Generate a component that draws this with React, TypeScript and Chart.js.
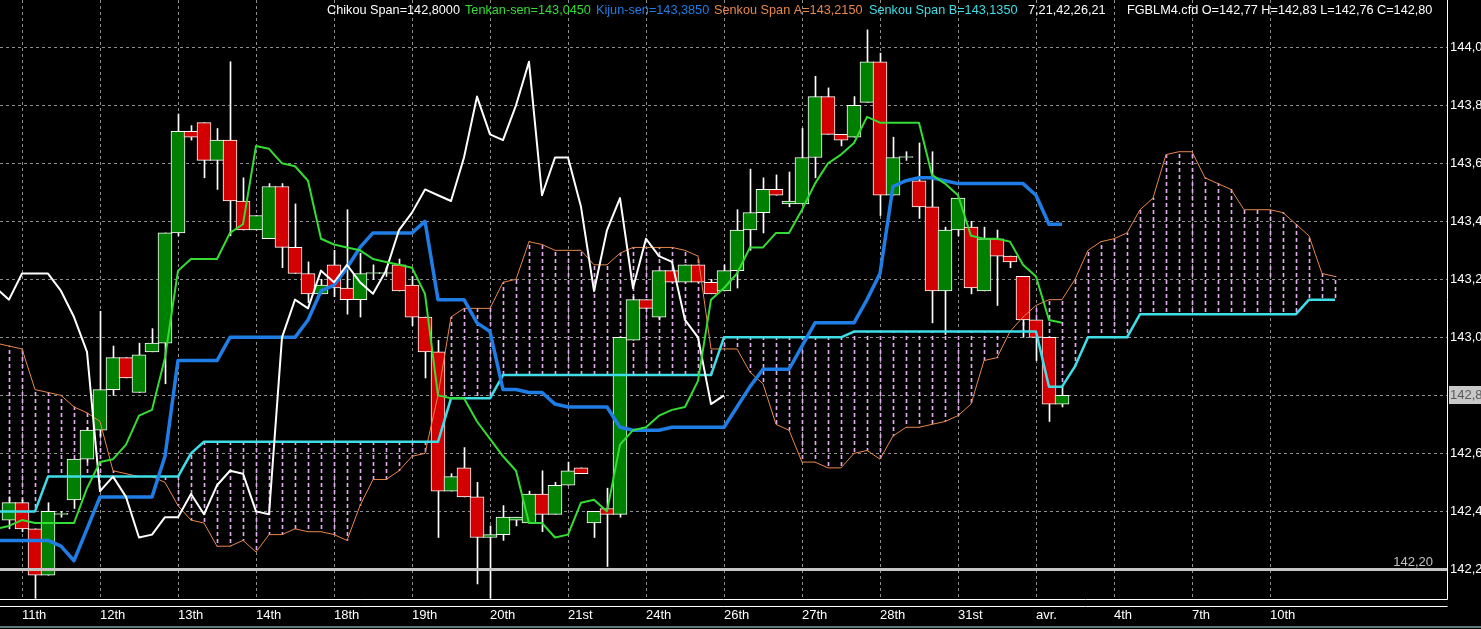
import React, { useEffect, useRef } from 'react';
import { Chart, registerables } from 'chart.js';

Chart.register(...registerables);

// ---------- DATA ----------
// Candles, bar index 0..81
const openP = [
  142.37, 142.43, 142.34, 142.18, 142.39, 142.44, 142.58, 142.68, 142.82, 142.93,
  142.81, 142.95, 142.98, 143.36, 143.71, 143.74, 143.61, 143.68, 143.47, 143.37,
  143.34, 143.52, 143.31, 143.22, 143.15, 143.25, 143.17, 143.13, 143.22, 143.22,
  143.25, 143.18, 143.07, 142.95, 142.47, 142.55, 142.45, 142.31, 142.32, 142.37,
  142.36, 142.46, 142.39, 142.49, 142.55, 142.36, 142.41, 142.39, 142.99, 143.13,
  143.07, 143.23, 143.19, 143.25, 143.19, 143.16, 143.23, 143.37, 143.43, 143.51,
  143.46, 143.46, 143.62, 143.83, 143.70, 143.69, 143.81, 143.95, 143.49, 143.62,
  143.54, 143.45, 143.16, 143.37, 143.38, 143.16, 143.34, 143.28, 143.21, 143.06,
  143.00, 142.77,
];
const highP = [
  142.45, 142.44, 142.34, 142.43, 142.40, 142.58, 142.69, 143.09, 142.97, 142.93,
  142.98, 143.03, 143.36, 143.77, 143.73, 143.74, 143.72, 143.95, 143.55, 143.42,
  143.53, 143.53, 143.46, 143.26, 143.20, 143.30, 143.44, 143.29, 143.25, 143.24,
  143.27, 143.21, 143.07, 142.99, 142.53, 142.62, 142.50, 142.35, 142.42, 142.38,
  142.47, 142.54, 142.50, 142.57, 142.55, 142.40, 142.48, 143.00, 143.14, 143.13,
  143.23, 143.23, 143.25, 143.25, 143.20, 143.25, 143.44, 143.58, 143.55, 143.56,
  143.57, 143.72, 143.90, 143.86, 143.70, 143.83, 144.06, 143.98, 143.69, 143.64,
  143.67, 143.64, 143.38, 143.48, 143.40, 143.38, 143.37, 143.28, 143.21, 143.06,
  143.00, 142.83,
];
const lowP = [
  142.34, 142.33, 142.10, 142.18, 142.38, 142.41, 142.57, 142.66, 142.80, 142.86,
  142.81, 142.95, 142.84, 143.35, 143.68, 143.55, 143.51, 143.35, 143.37, 143.37,
  143.34, 143.24, 143.22, 143.12, 143.15, 143.14, 143.08, 143.07, 143.20, 143.21,
  143.16, 143.04, 142.86, 142.31, 142.47, 142.45, 142.15, 142.10, 142.30, 142.35,
  142.36, 142.33, 142.39, 142.49, 142.53, 142.31, 142.21, 142.38, 142.99, 143.10,
  143.06, 143.19, 143.19, 143.19, 143.15, 143.16, 143.17, 143.30, 143.36, 143.49,
  143.45, 143.46, 143.55, 143.70, 143.66, 143.69, 143.81, 143.42, 143.49, 143.61,
  143.41, 143.05, 143.01, 143.35, 143.15, 143.16, 143.11, 143.24, 143.00, 142.92,
  142.71, 142.76,
];
const closeP = [
  142.43, 142.34, 142.18, 142.40, 142.39, 142.58, 142.68, 142.82, 142.93, 142.86,
  142.94, 142.98, 143.36, 143.71, 143.69, 143.61, 143.68, 143.47, 143.37, 143.42,
  143.52, 143.31, 143.22, 143.15, 143.18, 143.17, 143.13, 143.22, 143.22, 143.22,
  143.16, 143.07, 142.95, 142.47, 142.52, 142.45, 142.31, 142.32, 142.38, 142.38,
  142.46, 142.39, 142.49, 142.54, 142.53, 142.40, 142.39, 143.00, 143.13, 143.10,
  143.23, 143.19, 143.25, 143.19, 143.15, 143.23, 143.37, 143.43, 143.51, 143.49,
  143.47, 143.62, 143.83, 143.70, 143.68, 143.80, 143.95, 143.49, 143.62, 143.62,
  143.45, 143.16, 143.37, 143.48, 143.17, 143.34, 143.28, 143.26, 143.06, 143.00,
  142.77, 142.80,
];

// Indicator lines start one bar before the first candle (bar index -1)
const LINE_START = -1;
const tenkan = [
  142.34,
  142.35, 142.37, 142.36, 142.36, 142.36, 142.36, 142.48, 142.57, 142.58, 142.63,
  142.73, 142.75, 142.93, 143.23, 143.27, 143.27, 143.27, 143.36, 143.39, 143.66,
  143.65, 143.60, 143.59, 143.54, 143.34, 143.32, 143.31, 143.30, 143.27, 143.26,
  143.25, 143.24, 143.15, 142.80, 142.79, 142.79, 142.71, 142.65, 142.59, 142.54,
  142.36, 142.36, 142.31, 142.32, 142.43, 142.44, 142.40, 142.63, 142.68, 142.69,
  142.73, 142.75, 142.76, 142.85, 143.13, 143.17, 143.22, 143.31, 143.31, 143.36,
  143.36, 143.44, 143.53, 143.60, 143.63, 143.67, 143.76, 143.74, 143.74, 143.74,
  143.74, 143.56, 143.53, 143.49, 143.35, 143.34, 143.34, 143.33, 143.25, 143.21,
  143.06, 143.05,
];
const kijun = [
  142.30,
  142.30, 142.30, 142.30, 142.30, 142.28, 142.23, 142.34, 142.45, 142.45, 142.45,
  142.45, 142.45, 142.59, 142.92, 142.92, 142.92, 142.92, 143.00, 143.00, 143.00,
  143.00, 143.00, 143.00, 143.06, 143.16, 143.18, 143.24, 143.31, 143.36, 143.36,
  143.36, 143.36, 143.40, 143.13, 143.13, 143.13, 143.05, 143.02, 142.82, 142.82,
  142.81, 142.81, 142.77, 142.76, 142.76, 142.76, 142.76, 142.69, 142.68, 142.68,
  142.68, 142.69, 142.69, 142.69, 142.69, 142.69, 142.76, 142.83, 142.89, 142.89,
  142.89, 142.97, 143.05, 143.05, 143.05, 143.05, 143.13, 143.22, 143.52, 143.54,
  143.55, 143.55, 143.54, 143.53, 143.53, 143.53, 143.53, 143.53, 143.53, 143.49,
  143.39, 143.39,
];
const chikou = [
  143.17,
  143.13, 143.22, 143.22, 143.22, 143.16, 143.07, 142.95, 142.47, 142.52, 142.45,
  142.31, 142.32, 142.38, 142.38, 142.46, 142.39, 142.49, 142.54, 142.53, 142.40,
  142.39, 143.00, 143.13, 143.10, 143.23, 143.19, 143.25, 143.19, 143.15, 143.23,
  143.37, 143.43, 143.51, 143.49, 143.47, 143.62, 143.83, 143.70, 143.68, 143.80,
  143.95, 143.49, 143.62, 143.62, 143.45, 143.16, 143.37, 143.48, 143.17, 143.34,
  143.28, 143.26, 143.06, 143.00, 142.77, 142.80,
];
const senkouA = [
  142.98,
  142.97, 142.96, 142.82, 142.81, 142.80, 142.76, 142.74, 142.71, 142.54, 142.53,
  142.52, 142.52, 142.50, 142.42, 142.37, 142.36, 142.28, 142.28, 142.30, 142.26,
  142.32, 142.32, 142.34, 142.33, 142.33, 142.32, 142.30, 142.42, 142.51, 142.51,
  142.54, 142.59, 142.60, 142.80, 143.07, 143.10, 143.10, 143.10, 143.19, 143.20,
  143.33, 143.32, 143.30, 143.30, 143.30, 143.25, 143.25, 143.29, 143.31, 143.31,
  143.31, 143.31, 143.30, 143.28, 142.96, 142.96, 142.96, 142.88, 142.84, 142.70,
  142.68, 142.57, 142.57, 142.55, 142.55, 142.60, 142.61, 142.58, 142.66, 142.69,
  142.69, 142.70, 142.71, 142.73, 142.77, 142.92, 142.93, 143.02, 143.07, 143.11,
  143.13, 143.13, 143.20, 143.30, 143.33, 143.34, 143.36, 143.44, 143.48, 143.63,
  143.64, 143.64, 143.55, 143.53, 143.51, 143.44, 143.44, 143.44, 143.43, 143.39,
  143.35, 143.22, 143.21,
];
const senkouB = [
  142.40, 142.40, 142.40, 142.40, 142.52, 142.52, 142.52, 142.52, 142.52, 142.52,
  142.52, 142.52, 142.52, 142.52, 142.52, 142.60, 142.64, 142.64, 142.64, 142.64,
  142.64, 142.64, 142.64, 142.64, 142.64, 142.64, 142.64, 142.64, 142.64, 142.64,
  142.64, 142.64, 142.64, 142.64, 142.64, 142.79, 142.79, 142.79, 142.79, 142.87,
  142.87, 142.87, 142.87, 142.87, 142.87, 142.87, 142.87, 142.87, 142.87, 142.87,
  142.87, 142.87, 142.87, 142.87, 142.87, 142.87, 143.00, 143.00, 143.00, 143.00,
  143.00, 143.00, 143.00, 143.00, 143.00, 143.00, 143.02, 143.02, 143.02, 143.02,
  143.02, 143.02, 143.02, 143.02, 143.02, 143.02, 143.02, 143.02, 143.02, 143.02,
  143.02, 142.83, 142.83, 142.90, 143.00, 143.00, 143.00, 143.00, 143.08, 143.08,
  143.08, 143.08, 143.08, 143.08, 143.08, 143.08, 143.08, 143.08, 143.08, 143.08,
  143.08, 143.13, 143.13, 143.13,
];

const supportLevel = 142.2;
const xLabels = ['11th', '12th', '13th', '14th', '18th', '19th', '20th', '21st', '24th', '26th', '27th', '28th', '31st', 'avr.', '4th', '7th', '10th'];
const yTicks = [142.2, 142.4, 142.6, 142.8, 143.0, 143.2, 143.4, 143.6, 143.8, 144.0];
const headerTexts = [
  'Chikou Span=142,8000',
  'Tenkan-sen=143,0450',
  'Kijun-sen=143,3850',
  'Senkou Span A=143,2150',
  'Senkou Span B=143,1350',
  '7,21,42,26,21',
  'FGBLM4.cfd O=142,77 H=142,83 L=142,76 C=142,80',
];

// ---------- STYLE ----------
const W = 1481;
const H = 629;
const FONT_FAMILY = '"Liberation Sans", Arial, sans-serif';
const FONT = `13px ${FONT_FAMILY}`;
const HEADER_FONT = `12.7px ${FONT_FAMILY}`;
const GRID = '#8e8e8e';
const C_UP = '#008000';
const C_DOWN = '#d20000';
const C_TENKAN = '#33dd33';
const C_KIJUN = '#1f7de6';
const C_SPANA = '#e8874a';
const C_SPANB = '#3fdde6';
const C_CHIKOU = '#ffffff';
const C_HATCH = '#e4aaf0';
const headerColors = [C_CHIKOU, C_TENKAN, C_KIJUN, C_SPANA, C_SPANB, '#ffffff', '#ffffff'];
const headerX = [327, 465, 596, 714, 869, 1028, 1127];

// x scale: 13 px per bar, plot 1447 px wide, bar 0 centred at x=9
const X_MIN = -9 / 13;
const X_MAX = 1438 / 13;
const Y_MAX = 144.163;
const Y_MIN = 142.098;

const fmt1 = (v: number) => v.toFixed(1).replace('.', ',');
const fmt2 = (v: number) => v.toFixed(2).replace('.', ',');

const decor = {
  id: 'decor',
  beforeDraw(chart: any) {
    const { ctx } = chart;
    ctx.save();
    ctx.fillStyle = '#000';
    ctx.fillRect(0, 0, chart.width, chart.height);
    ctx.restore();
  },
  afterDraw(chart: any) {
    const { ctx, chartArea: a, scales } = chart;
    const ys = scales.y;
    ctx.save();
    // frame lines
    ctx.strokeStyle = '#ffffff';
    ctx.lineWidth = 1;
    ctx.beginPath();
    ctx.moveTo(a.right + 0.5, 0);
    ctx.lineTo(a.right + 0.5, a.bottom + 0.5);
    ctx.moveTo(0, a.bottom + 0.5);
    ctx.lineTo(a.right + 0.5, a.bottom + 0.5);
    ctx.moveTo(0, a.bottom + 7.5);
    ctx.lineTo(a.right + 0.5, a.bottom + 7.5);
    ctx.stroke();
    ctx.strokeStyle = '#5c7a7a';
    ctx.lineWidth = 2;
    ctx.beginPath();
    ctx.moveTo(0, chart.height - 2);
    ctx.lineTo(chart.width, chart.height - 2);
    ctx.stroke();

    ctx.font = FONT;
    // support level label
    ctx.fillStyle = '#c0c0c0';
    ctx.textAlign = 'right';
    ctx.textBaseline = 'alphabetic';
    ctx.fillText(fmt2(supportLevel), a.right - 14, ys.getPixelForValue(supportLevel) - 3);

    // last price tag
    const last = closeP[closeP.length - 1];
    const py = ys.getPixelForValue(last);
    ctx.fillStyle = '#c8c8c8';
    ctx.fillRect(a.right + 2, Math.round(py) - 9, chart.width - a.right - 2, 18);
    ctx.fillStyle = '#5a5a5a';
    ctx.textAlign = 'left';
    ctx.textBaseline = 'middle';
    ctx.fillText(fmt1(last), a.right + 3, py);

    // header
    ctx.font = HEADER_FONT;
    ctx.textBaseline = 'middle';
    headerTexts.forEach((t, k) => {
      ctx.fillStyle = headerColors[k];
      ctx.fillText(t, headerX[k], 10);
    });
    ctx.restore();
  },
};

export default function App() {
  const ref = useRef<HTMLCanvasElement>(null);

  useEffect(() => {
    document.body.style.margin = '0';
    document.body.style.background = '#000';
    const canvas = ref.current;
    if (!canvas) return;

    const pat = document.createElement('canvas');
    pat.width = 1;
    pat.height = 7;
    const pctx = pat.getContext('2d')!;
    pctx.fillStyle = C_HATCH;
    pctx.fillRect(0, 0, 1, 4);
    const hatch = canvas.getContext('2d')!.createPattern(pat, 'repeat');

    const toXY = (arr: number[], start: number) => arr.map((y, k) => ({ x: start + k, y }));
    const bodies = openP.map((o, i) => ({ x: i, y: [o, closeP[i]] }));
    const wicks = lowP.map((l, i) => ({ x: i, y: [l, highP[i]] }));
    const cloud = senkouA.map((v, k) => ({ x: LINE_START + k, y: [v, senkouB[k]] }));

    const lineDs = (label: string, data: any[], color: string, width: number) => ({
      type: 'line',
      label,
      data,
      borderColor: color,
      backgroundColor: color,
      borderWidth: width,
      pointRadius: 0,
      pointHoverRadius: 0,
      tension: 0,
      fill: false,
      borderJoinStyle: 'round',
      xAxisID: 'x',
      yAxisID: 'y',
    });

    Chart.defaults.font.family = FONT_FAMILY;

    const chart = new Chart(canvas, {
      type: 'bar',
      data: {
        datasets: [
          lineDs('Tenkan-sen', toXY(tenkan, LINE_START), C_TENKAN, 2),
          lineDs('Chikou Span', toXY(chikou, LINE_START), C_CHIKOU, 2),
          lineDs('Kijun-sen', toXY(kijun, LINE_START), C_KIJUN, 3.5),
          lineDs('Senkou Span B', toXY(senkouB, LINE_START), C_SPANB, 2.5),
          lineDs('Senkou Span A', toXY(senkouA, LINE_START), C_SPANA, 1),
          lineDs('Support', [{ x: X_MIN - 1, y: supportLevel }, { x: X_MAX + 1, y: supportLevel }], '#c4c4c4', 3),
          {
            type: 'bar',
            label: 'Bodies',
            data: bodies,
            backgroundColor: (c: any) => (closeP[c.dataIndex] >= openP[c.dataIndex] ? C_UP : C_DOWN),
            borderColor: '#ffffff',
            borderWidth: 1,
            borderSkipped: false,
            barThickness: 14,
            minBarLength: 1,
            grouped: false,
            xAxisID: 'x',
            yAxisID: 'y',
          },
          {
            type: 'bar',
            label: 'Wicks',
            data: wicks,
            backgroundColor: '#ffffff',
            borderWidth: 0,
            barThickness: 1,
            grouped: false,
            xAxisID: 'x2',
            yAxisID: 'y',
          },
          {
            type: 'bar',
            label: 'Cloud',
            data: cloud,
            backgroundColor: hatch,
            borderWidth: 0,
            barThickness: 1,
            grouped: false,
            xAxisID: 'x2',
            yAxisID: 'y',
          },
        ] as any,
      },
      options: {
        animation: false,
        responsive: false,
        devicePixelRatio: 1,
        events: [],
        layout: { padding: 0 },
        plugins: { legend: { display: false }, tooltip: { enabled: false } },
        scales: {
          x: {
            type: 'linear',
            position: 'bottom',
            min: X_MIN,
            max: X_MAX,
            offset: false,
            grid: { color: GRID, lineWidth: 1, drawTicks: false, offset: false, borderDash: [3, 3] } as any,
            border: { display: false, dash: [3, 3] },
            ticks: {
              color: '#ffffff',
              font: { family: FONT_FAMILY, size: 13 },
              padding: 9,
              align: 'start',
              autoSkip: false,
              maxRotation: 0,
              minRotation: 0,
              callback: (_v: any, idx: number) => xLabels[idx] ?? '',
            },
            afterBuildTicks: (s: any) => {
              s.ticks = xLabels.map((_, k) => ({ value: 1 + 6 * k }));
            },
            afterFit: (s: any) => {
              s.height = 30;
              s.paddingLeft = 0;
              s.paddingRight = 0;
            },
          },
          x2: {
            type: 'linear',
            display: false,
            min: X_MIN - 0.5 / 13,
            max: X_MAX - 0.5 / 13,
            offset: false,
            grid: { offset: false },
          },
          y: {
            type: 'linear',
            position: 'right',
            min: Y_MIN,
            max: Y_MAX,
            beginAtZero: false,
            grid: { color: GRID, lineWidth: 1, drawTicks: false, borderDash: [3, 3] } as any,
            border: { display: false, dash: [3, 3] },
            ticks: {
              color: '#ffffff',
              font: { family: FONT_FAMILY, size: 13 },
              padding: 3,
              callback: (v: any) => fmt1(Number(v)),
            },
            afterBuildTicks: (s: any) => {
              s.ticks = yTicks.map((v) => ({ value: v }));
            },
            afterFit: (s: any) => {
              s.width = W - 1447;
              s.paddingTop = 0;
              s.paddingBottom = 0;
            },
          },
        } as any,
      },
      plugins: [decor],
    } as any);

    return () => chart.destroy();
  }, []);

  return (
    <div style={{ width: W, height: H, background: '#000', overflow: 'hidden' }}>
      <canvas ref={ref} width={W} height={H} style={{ display: 'block', width: W, height: H }} />
    </div>
  );
}
